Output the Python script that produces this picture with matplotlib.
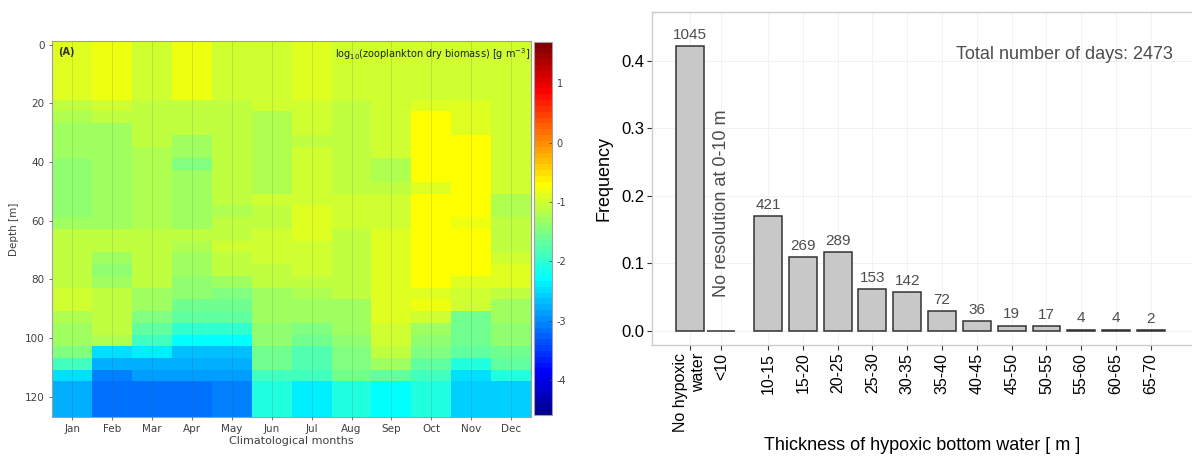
import numpy as np
import matplotlib
matplotlib.use("Agg")
import matplotlib.pyplot as plt
from matplotlib.colors import ListedColormap

plt.rcParams["axes.unicode_minus"] = False

# ---------- left panel: climatological zooplankton biomass (log10 g m-3) ----------
months = ["Jan", "Feb", "Mar", "Apr", "May", "Jun", "Jul", "Aug", "Sep", "Oct", "Nov", "Dec"]
# 32 depth cells of 4 m, from -1.2 m down to 126.8 m
depth_edges = np.arange(-1.2, 127.0, 4.0)

jan = [-0.95, -0.95, -0.95, -0.95, -0.95, -1.10, -1.18, -1.34, -1.34, -1.34, -1.42, -1.42, -1.42, -1.42, -1.42, -1.26,
       -1.15, -1.15, -1.15, -1.12, -1.10, -0.98, -0.98, -1.18, -1.34, -1.34, -1.49, -1.89, -2.45, -2.75, -2.75, -2.75]
feb = [-0.82, -0.82, -0.82, -0.82, -0.82, -1.02, -1.10, -1.26, -1.26, -1.26, -1.34, -1.34, -1.34, -1.34, -1.34, -1.34,
       -1.10, -1.10, -1.26, -1.35, -1.34, -1.15, -1.15, -1.15, -1.15, -1.20, -2.45, -2.75, -3.05, -3.14, -3.14, -3.14]
mar = [-1.02, -1.02, -1.02, -1.02, -1.02, -1.10, -1.10, -1.10, -1.10, -1.21, -1.21, -1.21, -1.21, -1.21, -1.21, -1.21,
       -1.10, -1.10, -1.10, -1.15, -1.15, -1.34, -1.34, -1.49, -1.73, -1.89, -2.40, -2.75, -2.91, -3.18, -3.18, -3.18]
apr = [-0.82, -0.82, -0.82, -0.82, -0.82, -1.10, -1.10, -1.10, -1.34, -1.34, -1.49, -1.34, -1.34, -1.34, -1.34, -1.34,
       -1.15, -1.20, -1.26, -1.34, -1.41, -1.41, -1.57, -1.73, -1.97, -2.28, -2.70, -2.75, -2.91, -3.18, -3.18, -3.18]
may = [-0.99, -0.99, -0.99, -0.99, -0.99, -1.15, -1.15, -1.15, -1.15, -1.15, -1.15, -1.15, -1.15, -1.15, -1.18, -1.15,
       -1.12, -0.99, -1.15, -1.15, -1.26, -1.45, -1.57, -1.70, -1.95, -2.28, -2.65, -2.75, -2.91, -3.10, -3.10, -3.10]
jun = [-1.05, -1.05, -1.05, -1.05, -1.05, -1.05, -1.18, -1.18, -1.18, -1.18, -1.18, -1.18, -1.18, -1.05, -1.10, -1.10,
       -1.05, -1.05, -1.05, -1.15, -1.15, -1.26, -1.26, -1.34, -1.41, -1.41, -1.57, -1.60, -1.90, -2.12, -2.12, -2.12]
jul = [-0.86, -0.86, -0.86, -0.86, -0.86, -1.05, -1.05, -1.05, -1.15, -1.05, -1.05, -1.05, -1.05, -1.05, -0.95, -0.90,
       -0.95, -0.99, -0.99, -0.99, -1.12, -1.20, -1.34, -1.34, -1.50, -1.57, -1.75, -1.81, -1.85, -2.40, -2.40, -2.40]
aug = [-1.05, -1.05, -1.05, -1.05, -1.05, -1.15, -1.15, -1.15, -1.15, -1.15, -1.15, -1.15, -1.15, -1.05, -1.05, -1.05,
       -1.10, -1.10, -1.12, -1.10, -1.10, -1.10, -1.26, -1.26, -1.34, -1.38, -1.49, -1.49, -1.60, -2.09, -2.09, -2.09]
sep = [-1.02, -1.02, -1.02, -1.02, -1.02, -1.05, -1.05, -1.05, -1.05, -1.05, -1.21, -1.21, -1.15, -1.02, -1.02, -1.02,
       -0.94, -0.94, -0.86, -0.86, -0.86, -0.86, -0.86, -0.94, -0.97, -0.99, -1.10, -1.26, -1.70, -2.28, -2.28, -2.28]
oct_ = [-1.02, -1.02, -1.02, -1.02, -1.02, -0.90, -0.71, -0.71, -0.71, -0.71, -0.71, -0.75, -0.86, -0.71, -0.71, -0.71,
        -0.71, -0.71, -0.71, -0.71, -0.71, -0.86, -0.85, -1.05, -1.26, -1.41, -1.49, -1.65, -1.85, -2.04, -2.04, -2.04]
nov = [-1.02, -1.02, -1.02, -1.02, -1.02, -0.94, -0.94, -0.94, -0.71, -0.71, -0.71, -0.75, -0.71, -0.71, -0.71, -0.80,
       -0.71, -0.71, -0.71, -0.71, -0.86, -1.02, -1.02, -1.57, -1.57, -1.57, -1.65, -2.12, -2.50, -2.59, -2.59, -2.59]
dec = [-1.02, -1.02, -1.02, -1.02, -1.02, -1.05, -1.05, -1.05, -1.05, -1.05, -1.05, -1.05, -1.05, -1.20, -1.20, -1.10,
       -1.10, -1.10, -0.99, -0.94, -0.94, -1.10, -1.26, -1.26, -1.35, -1.41, -1.57, -1.65, -2.12, -2.59, -2.59, -2.59]

clim_lo, clim_hi = -4.59, 1.70

# ---------- right panel: thickness of hypoxic bottom water ----------
classes = ["No hypoxic\nwater", "<10", "10-15", "15-20", "20-25", "25-30", "30-35", "35-40",
           "40-45", "45-50", "50-55", "55-60", "60-65", "65-70"]
days = [1045, 0, 421, 269, 289, 153, 142, 72, 36, 19, 17, 4, 4, 2]
total_days = 2473


def matlab_jet(m=64):
    # same construction as MATLAB's jet(m)
    n = int(np.ceil(m / 4))
    u = np.concatenate([np.arange(1, n + 1) / n, np.ones(n - 1), np.arange(n, 0, -1) / n])
    g = int(np.ceil(n / 2)) - (1 if m % 4 == 1 else 0) + np.arange(1, len(u) + 1)
    r = g + n
    b = g - n
    J = np.zeros((m, 3))
    J[r[r <= m] - 1, 0] = u[r <= m]
    J[g[g <= m] - 1, 1] = u[g <= m]
    J[b[b >= 1] - 1, 2] = u[b >= 1]
    return ListedColormap(J)


fig = plt.figure(figsize=(11.92, 4.57), dpi=100)

# left heatmap
ax1 = fig.add_axes([0.0439, 0.0882, 0.4016, 0.822])
field = np.array([jan, feb, mar, apr, may, jun, jul, aug, sep, oct_, nov, dec]).T
month_edges = np.arange(0.5, 13.0, 1.0)
mesh = ax1.pcolormesh(month_edges, depth_edges, field, cmap=matlab_jet(64),
                      vmin=clim_lo, vmax=clim_hi, shading="flat")
ax1.set_xlim(0.5, 12.5)
ax1.set_ylim(126.8, -1.2)
ax1.set_xticks(np.arange(1, 13))
ax1.set_xticklabels(months)
ax1.set_yticks([0, 20, 40, 60, 80, 100, 120])
ax1.tick_params(labelsize=7.5, colors="#404040", length=2, width=0.5)
for lab in ax1.get_xticklabels() + ax1.get_yticklabels():
    lab.set_color("#404040")
ax1.xaxis.grid(True, color="#555555", alpha=0.2, linewidth=0.6)
ax1.set_axisbelow(False)
for sp in ax1.spines.values():
    sp.set_color("#a0a0a0")
    sp.set_linewidth(0.8)
ax1.set_xlabel("Climatological months", fontsize=8, color="#404040", labelpad=1)
ax1.set_ylabel("Depth [m]", fontsize=7.5, color="#404040", labelpad=4)
ax1.text(0.012, 0.985, "(A)", transform=ax1.transAxes, fontsize=7, fontweight="bold",
         color="#303030", ha="left", va="top")
ax1.text(0.999, 0.985, r"log$_{10}$(zooplankton dry biomass) [g m$^{-3}$]", transform=ax1.transAxes,
         fontsize=7, color="#202020", ha="right", va="top")

cax = fig.add_axes([0.448, 0.0919, 0.01485, 0.8168])
cb = fig.colorbar(mesh, cax=cax, ticks=[-4, -3, -2, -1, 0, 1])
cb.ax.tick_params(labelsize=7, colors="#404040", length=2, width=0.5, direction="in")
cb.outline.set_edgecolor("#a0a0a0")
cb.outline.set_linewidth(0.8)

# right bar chart
ax2 = fig.add_axes([0.5467, 0.245, 0.4533, 0.7287])
freq = [d / total_days for d in days]
xpos = [0.0, 0.91] + [2.25 + j for j in range(len(classes) - 2)]
ax2.bar(xpos, freq, width=0.8, color="#c8c8c8", edgecolor="#333333", linewidth=1.1, zorder=3)
for x, f, d in zip(xpos, freq, days):
    if d == 0:
        continue
    ax2.annotate(str(d), (x, f), xytext=(0, 3), textcoords="offset points", ha="center", va="bottom",
                 fontsize=11, color="#4d4d4d", family="Liberation Sans")
ax2.text(xpos[1], 0.05, "No resolution at 0-10 m", rotation=90, ha="center", va="bottom",
         fontsize=13, color="#4d4d4d", family="Liberation Sans")
ax2.text(13.88, 0.409, "Total number of days: %d" % total_days, ha="right", va="center",
         fontsize=13, color="#4d4d4d", family="Liberation Sans")
ax2.set_xlim(-1.09, 14.43)
ax2.set_ylim(-0.0212, 0.4727)
ax2.set_xticks(xpos)
ax2.set_xticklabels(classes, rotation=90, ha="center", va="top", multialignment="right",
                    family="Liberation Sans", fontsize=11.5)
ax2.set_yticks([0.0, 0.1, 0.2, 0.3, 0.4])
ax2.set_yticklabels(["0.0", "0.1", "0.2", "0.3", "0.4"], family="Liberation Sans", fontsize=12)
ax2.tick_params(length=3.5, width=0.8, color="#333333", labelcolor="black", pad=2)
ax2.grid(True, color="#f0f0f0", linewidth=0.6, zorder=0)
for name, sp in ax2.spines.items():
    sp.set_color("#cccccc")
    sp.set_linewidth(1.0)
ax2.spines["right"].set_visible(False)
ax2.set_ylabel("Frequency", fontsize=13, family="Liberation Sans", labelpad=6)
ax2.set_xlabel("Thickness of hypoxic bottom water [ m ]", fontsize=13, family="Liberation Sans",
               labelpad=4)

fig.savefig("out.png", dpi=100)
